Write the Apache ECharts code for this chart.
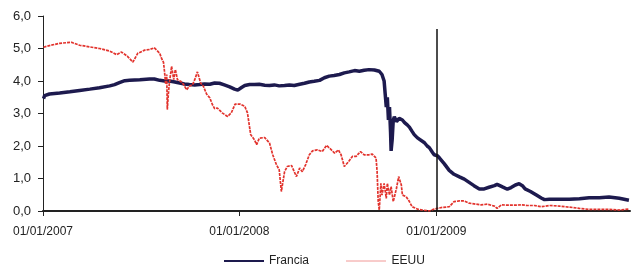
<!DOCTYPE html>
<html>
<head>
<meta charset="utf-8">
<script src="https://cdn.jsdelivr.net/npm/echarts@6/dist/echarts.min.js"></script>
<style>
  html, body { margin: 0; padding: 0; background: #fff; }
  #chart { width: 631px; height: 269px; }
</style>
</head>
<body>
<div id="chart"></div>
<script>
// Francia
const franciaDates = [
  '2007-01-02','2007-01-04','2007-01-13','2007-02-01','2007-02-20','2007-03-10','2007-03-29','2007-04-16',
  '2007-05-05','2007-05-14','2007-05-23','2007-06-02','2007-06-11','2007-06-30','2007-07-18','2007-07-27',
  '2007-08-06','2007-08-15','2007-08-24','2007-09-03','2007-09-12','2007-09-21','2007-09-30','2007-10-10',
  '2007-10-19','2007-10-28','2007-11-07','2007-11-16','2007-11-25','2007-12-04','2007-12-14','2007-12-23',
  '2007-12-29','2008-01-05','2008-01-11','2008-01-20','2008-01-29','2008-02-07','2008-02-17','2008-02-26',
  '2008-03-06','2008-03-15','2008-03-25','2008-04-03','2008-04-12','2008-04-22','2008-05-01','2008-05-10',
  '2008-05-19','2008-05-29','2008-06-07','2008-06-16','2008-06-25','2008-07-05','2008-07-14','2008-07-23',
  '2008-08-02','2008-08-11','2008-08-20','2008-08-29','2008-09-08','2008-09-17','2008-09-22','2008-09-26',
  '2008-09-28','2008-09-30','2008-10-02','2008-10-04','2008-10-06','2008-10-08','2008-10-09','2008-10-11',
  '2008-10-13','2008-10-15','2008-10-19','2008-10-24','2008-10-30','2008-11-03','2008-11-08','2008-11-12',
  '2008-11-17','2008-11-21','2008-11-27','2008-11-30','2008-12-10','2008-12-15','2008-12-19','2008-12-25',
  '2008-12-28','2009-01-03','2009-01-07','2009-01-16','2009-01-25','2009-02-03','2009-02-13','2009-02-22',
  '2009-03-03','2009-03-12','2009-03-22','2009-03-31','2009-04-09','2009-04-19','2009-04-24','2009-05-04',
  '2009-05-13','2009-05-20','2009-05-28','2009-06-04','2009-06-10','2009-06-15','2009-06-25','2009-07-06',
  '2009-07-15','2009-07-21','2009-07-30','2009-08-18','2009-09-05','2009-09-24','2009-10-12','2009-10-31',
  '2009-11-18','2009-12-07','2009-12-25'
];
const franciaValues = [
  3.46, 3.55, 3.60, 3.63, 3.67, 3.71, 3.75, 3.79,
  3.85, 3.89, 3.95, 4.01, 4.02, 4.04, 4.06, 4.06,
  4.02, 4.00, 4.00, 3.97, 3.94, 3.91, 3.89, 3.88,
  3.89, 3.91, 3.90, 3.94, 3.93, 3.88, 3.82, 3.75,
  3.72, 3.80, 3.86, 3.89, 3.89, 3.90, 3.87, 3.86,
  3.88, 3.85, 3.86, 3.88, 3.86, 3.90, 3.93, 3.97,
  3.99, 4.02, 4.10, 4.15, 4.17, 4.20, 4.25, 4.28,
  4.32, 4.30, 4.33, 4.35, 4.34, 4.30, 4.20, 4.00,
  3.60, 3.20, 3.50, 2.80, 3.20, 2.40, 1.85, 2.20,
  2.80, 2.90, 2.75, 2.85, 2.80, 2.72, 2.65, 2.58,
  2.45, 2.35, 2.25, 2.20, 2.10, 2.00, 1.95, 1.80,
  1.73, 1.70, 1.63, 1.45, 1.25, 1.13, 1.05, 0.98,
  0.88, 0.78, 0.68, 0.68, 0.73, 0.78, 0.82, 0.74,
  0.67, 0.72, 0.80, 0.84, 0.78, 0.68, 0.60, 0.49,
  0.40, 0.35, 0.36, 0.36, 0.36, 0.38, 0.41, 0.41,
  0.43, 0.39, 0.33
];

// EEUU
const eeuuDates = [
  '2007-01-02','2007-01-13','2007-02-01','2007-02-23','2007-03-10','2007-03-29','2007-04-16','2007-05-05',
  '2007-05-18','2007-05-27','2007-06-07','2007-06-17','2007-06-26','2007-07-09','2007-07-18','2007-07-27',
  '2007-08-02','2007-08-06','2007-08-09','2007-08-13','2007-08-15','2007-08-17','2007-08-19','2007-08-20',
  '2007-08-22','2007-08-24','2007-08-28','2007-09-01','2007-09-04','2007-09-08','2007-09-14','2007-09-19',
  '2007-09-25','2007-09-30','2007-10-06','2007-10-10','2007-10-15','2007-10-21','2007-10-26','2007-11-01',
  '2007-11-07','2007-11-12','2007-11-16','2007-11-21','2007-11-30','2007-12-10','2007-12-17','2007-12-24',
  '2008-01-02','2008-01-11','2008-01-16','2008-01-22','2008-01-29','2008-02-02','2008-02-07','2008-02-17',
  '2008-02-26','2008-03-03','2008-03-10','2008-03-15','2008-03-19','2008-03-25','2008-03-30','2008-04-07',
  '2008-04-12','2008-04-16','2008-04-22','2008-04-27','2008-05-03','2008-05-10','2008-05-16','2008-05-25',
  '2008-06-03','2008-06-11','2008-06-20','2008-06-26','2008-07-03','2008-07-08','2008-07-14','2008-07-22',
  '2008-07-29','2008-08-05','2008-08-13','2008-08-20','2008-08-29','2008-09-04','2008-09-11','2008-09-13',
  '2008-09-15','2008-09-17','2008-09-20','2008-09-22','2008-09-26','2008-09-30','2008-10-02','2008-10-06',
  '2008-10-09','2008-10-13','2008-10-19','2008-10-23','2008-10-28','2008-10-30','2008-11-06','2008-11-12',
  '2008-11-17','2008-11-27','2008-12-06','2008-12-19','2008-12-28','2009-01-03','2009-01-12','2009-01-25',
  '2009-02-03','2009-02-13','2009-02-22','2009-03-03','2009-03-12','2009-03-25','2009-04-06','2009-04-19',
  '2009-04-24','2009-05-02','2009-05-13','2009-05-26','2009-06-08','2009-06-19','2009-07-02','2009-07-15',
  '2009-07-30','2009-08-18','2009-09-05','2009-09-24','2009-10-12','2009-10-31','2009-11-18','2009-12-07',
  '2009-12-25'
];
const eeuuValues = [
  5.04, 5.09, 5.16, 5.19, 5.10, 5.05, 5.00, 4.92,
  4.81, 4.89, 4.76, 4.58, 4.85, 4.95, 4.97, 5.02,
  4.92, 4.85, 4.71, 4.57, 4.26, 3.90, 4.20, 3.12,
  3.60, 3.95, 4.45, 4.04, 4.35, 4.04, 3.99, 3.90,
  3.73, 3.84, 3.89, 4.04, 4.28, 3.94, 3.84, 3.60,
  3.48, 3.27, 3.15, 3.17, 3.02, 2.91, 3.02, 3.29,
  3.29, 3.22, 3.02, 2.35, 2.19, 2.04, 2.24, 2.26,
  2.09, 1.73, 1.42, 1.27, 0.60, 1.21, 1.37, 1.40,
  1.21, 1.06, 1.32, 1.21, 1.42, 1.73, 1.85, 1.88,
  1.83, 2.02, 1.88, 1.78, 1.88, 1.73, 1.37, 1.52,
  1.68, 1.68, 1.83, 1.73, 1.73, 1.75, 1.63, 1.21,
  0.30, 0.03, 0.85, 0.49, 0.85, 0.39, 0.85, 0.49,
  0.75, 0.29, 0.70, 1.06, 0.80, 0.49, 0.44, 0.29,
  0.13, 0.06, 0.03, 0.00, 0.06, 0.08, 0.11, 0.13,
  0.29, 0.31, 0.31, 0.24, 0.22, 0.19, 0.21, 0.15,
  0.08, 0.19, 0.18, 0.18, 0.19, 0.17, 0.17, 0.13,
  0.17, 0.15, 0.12, 0.08, 0.05, 0.05, 0.05, 0.03,
  0.06
];

const yTicks = [0, 1, 2, 3, 4, 5, 6];
const markerDate = '2009-01-01';
const markerTop = 5.6;

const zip = (d, v) => d.map((x, i) => [x, v[i]]);
const pad = n => (n < 10 ? '0' : '') + n;

const chart = echarts.init(document.getElementById('chart'));
const option = {
  animation: false,
  textStyle: { fontFamily: 'Liberation Sans, Arial, sans-serif' },
  grid: { left: 43, right: 1, top: 16, bottom: 58, containLabel: false },
  legend: {
    left: 218,
    top: 250,
    itemWidth: 40,
    itemHeight: 12,
    itemGap: 37,
    itemStyle: { opacity: 0 },
    textStyle: { fontSize: 12, color: '#222' },
    data: [
      { name: 'Francia' },
      { name: 'EEUU', lineStyle: { width: 1, type: [1, 1] } }
    ]
  },
  xAxis: {
    type: 'time',
    min: '2007-01-01',
    max: '2009-12-27',
    splitNumber: 3,
    minInterval: 365 * 24 * 3600 * 1000,
    axisLine: { lineStyle: { color: '#222', width: 2 } },
    axisTick: { show: true, length: 5, lineStyle: { color: '#222', width: 1 } },
    axisLabel: {
      fontSize: 12,
      color: '#222',
      margin: 15,
      showMaxLabel: false,
      formatter: v => {
        const d = new Date(v);
        return pad(d.getDate()) + '/' + pad(d.getMonth() + 1) + '/' + d.getFullYear();
      }
    },
    splitLine: { show: false }
  },
  yAxis: {
    type: 'value',
    min: yTicks[0],
    max: yTicks[yTicks.length - 1],
    interval: 1,
    axisLine: { show: true, lineStyle: { color: '#222', width: 1 } },
    axisTick: { show: true, length: 5, lineStyle: { color: '#222' } },
    axisLabel: {
      fontSize: 13,
      color: '#222',
      margin: 12,
      formatter: v => v.toFixed(1).replace('.', ',')
    },
    splitLine: { show: false }
  },
  series: [
    {
      name: 'Francia',
      type: 'line',
      symbol: 'none',
      data: zip(franciaDates, franciaValues),
      lineStyle: { color: '#1d1a4e', width: 3.5 },
      itemStyle: { color: '#1d1a4e' }
    },
    {
      name: 'EEUU',
      type: 'line',
      symbol: 'none',
      data: zip(eeuuDates, eeuuValues),
      lineStyle: { color: '#e2332d', width: 1.7, type: [3, 1] },
      itemStyle: { color: '#e2332d' },
      markLine: {
        silent: true,
        symbol: 'none',
        label: { show: false },
        lineStyle: { color: '#111', width: 1.5, type: 'solid' },
        data: [[{ coord: [markerDate, 0] }, { coord: [markerDate, markerTop] }]]
      }
    }
  ]
};
chart.setOption(option);
</script>
</body>
</html>
